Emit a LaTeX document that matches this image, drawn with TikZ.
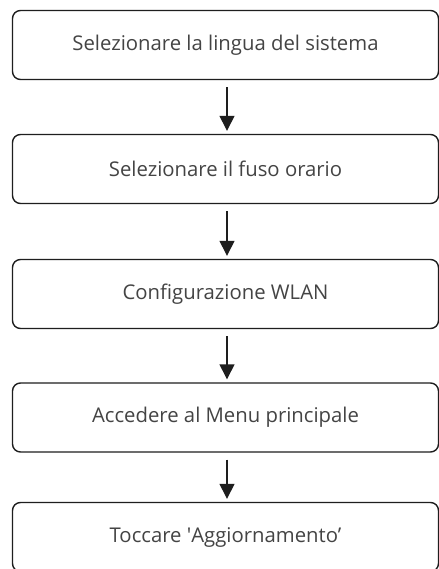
\documentclass[tikz,border=0pt]{standalone}
\usepackage{fontspec}
\setmainfont{Open Sans}
\usetikzlibrary{arrows.meta}
\definecolor{txt}{HTML}{444444}
\definecolor{edge}{HTML}{1E1E1E}
\tikzset{
  stepbox/.style={draw=edge, line width=1.4bp, rounded corners=8bp, fill=white,
    minimum width=426bp, minimum height=69bp, inner sep=0pt,
    text=txt, font=\fontsize{20.3bp}{24bp}\selectfont},
  flow/.style={draw=edge, line width=1.4bp, -{Triangle[width=15bp,length=15bp]},
    shorten <=7bp, shorten >=3bp}
}
\begin{document}
\begin{tikzpicture}[x=1bp,y=-1bp]
\useasboundingbox (0,0) rectangle (439,569);
\clip (0,0) rectangle (439,569);
\fill[white] (0,0) rectangle (439,569);
\node[stepbox] (s1) at (225.5,45) {Selezionare la lingua del sistema};
\node[stepbox] (s2) at (225.5,169) {Selezionare il fuso orario};
\node[stepbox] (s3) at (225.5,294) {Configurazione WLAN};
\node[stepbox] (s4) at (225.5,417.5) {Accedere al Menu principale};
\node[stepbox] (s5) at (225.5,537) {Toccare \textquotesingle Aggiornamento’};
\draw[flow] ([xshift=1.5bp]s1.south) -- ([xshift=1.5bp]s2.north);
\draw[flow] ([xshift=1.5bp]s2.south) -- ([xshift=1.5bp]s3.north);
\draw[flow] ([xshift=1.5bp]s3.south) -- ([xshift=1.5bp]s4.north);
\draw[flow] ([xshift=1.5bp]s4.south) -- ([xshift=1.5bp]s5.north);
\end{tikzpicture}
\end{document}
